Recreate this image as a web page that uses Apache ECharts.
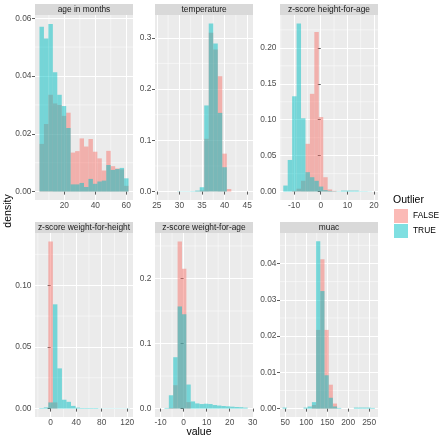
<!DOCTYPE html>
<html><head><meta charset="utf-8">
<script src="https://cdn.jsdelivr.net/npm/echarts@6/dist/echarts.min.js"></script>
<style>html,body{margin:0;padding:0;background:#fff}#c{width:439px;height:440px}</style>
</head><body><div id="c"></div>
<script>
// ---------------- data ----------------
const panelTitles = ['age in months', 'temperature', 'z-score height-for-age',
                     'z-score weight-for-height', 'z-score weight-for-age', 'muac'];
const seriesNames = ['FALSE', 'TRUE'];

// age in months (bins)
const ageBinStart = 3.9, ageBinWidth = 2.88;
const ageFalse = [0.0165, 0.0234, 0.0335, 0.0305, 0.0300, 0.0262, 0.0273, 0.0135, 0.0140, 0.0184,
                  0.0156, 0.0182, 0.0138, 0.0115, 0.0073, 0.0141, 0.0088, 0.0080, 0.0077, 0.0020];
const ageTrue  = [0.0570, 0.0530, 0.0580, 0.0413, 0.0335, 0.0296, 0.0220, 0.0025, 0.0025, 0.0030,
                  0.0016, 0.0044, 0.0027, 0.0035, 0.0038, 0.0092, 0.0075, 0.0078, 0.0082, 0.0046];
const ageXTicks = [20, 40, 60];
const ageYTicks = [0, 0.02, 0.04, 0.06];

// temperature
const tempBinStart = 29.5, tempBinWidth = 1;
const tempFalse = [0, 0, 0, 0, 0.0005, 0.002, 0.103, 0.310, 0.277, 0.225, 0.074, 0.005];
const tempTrue  = [0.0005, 0.0005, 0.0005, 0.0008, 0.002, 0.0085, 0.168, 0.328, 0.289, 0.1535, 0.0475, 0];
const tempXTicks = [25, 30, 35, 40, 45];
const tempYTicks = [0, 0.1, 0.2, 0.3];

// z-score height-for-age
const hfaBinStart = -14.07, hfaBinWidth = 1.667;
const hfaFalse = [0, 0, 0.001, 0.004, 0.015, 0.0665, 0.136, 0.222, 0.1037, 0.020, 0.003, 0.001,
                  0, 0, 0, 0, 0, 0, 0, 0, 0];
const hfaTrue  = [0.0084, 0.044, 0.1326, 0.234, 0.102, 0.027, 0.020, 0.015, 0.007, 0.002, 0.001, 0.0005,
                  0.0005, 0.0014, 0.0014, 0.0014, 0.0014, 0.0005, 0.0005, 0.0003, 0];
const hfaXTicks = [-10, 0, 10, 20];
const hfaYTicks = [0, 0.05, 0.10, 0.15, 0.20];

// z-score weight-for-height
const wfhBinStart = -17.8, wfhBinWidth = 7.1;
const wfhFalse = [0, 0, 0.1355, 0.005, 0, 0, 0, 0, 0, 0, 0, 0, 0, 0, 0, 0, 0, 0, 0, 0];
const wfhTrue  = [0.0005, 0.001, 0.005, 0.0845, 0.0326, 0.0072, 0.0055, 0.0022, 0.0008, 0.0005,
                  0.0005, 0.0005, 0.0005, 0.0002, 0.0002, 0.0002, 0.0002, 0.0002, 0.0002, 0.0002];
const wfhXTicks = [0, 40, 80, 120];
const wfhYTicks = [0, 0.05, 0.10];

// z-score weight-for-age
const wfaBinStart = -8.3, wfaBinWidth = 1.9;
const wfaFalse = [0, 0.001, 0.036, 0.257, 0.215, 0.010, 0, 0, 0, 0, 0, 0, 0, 0, 0, 0, 0, 0, 0];
const wfaTrue  = [0.001, 0.0205, 0.079, 0.157, 0.145, 0.037, 0.011, 0.008, 0.007, 0.0075, 0.007,
                  0.0055, 0.0047, 0.004, 0.0035, 0.003, 0.0025, 0.0022, 0.0015];
const wfaXTicks = [-10, 0, 10, 20, 30];
const wfaYTicks = [0, 0.1, 0.2];

// muac
const muacBinStart = 43.5, muacBinWidth = 10;
const muacFalse = [0, 0, 0, 0, 0, 0, 0, 0.001, 0.0217, 0.0412, 0.0217, 0.0066, 0.0014, 0, 0, 0, 0, 0, 0, 0, 0, 0];
const muacTrue  = [0.0003, 0, 0, 0, 0, 0.0003, 0.0006, 0.0018, 0.0461, 0.0324, 0.0092, 0.0030, 0.0006, 0.0002,
                   0, 0, 0, 0.0003, 0.0003, 0.0003, 0.0003, 0.0002];
const muacXTicks = [50, 100, 150, 200, 250];
const muacYTicks = [0, 0.01, 0.02, 0.03, 0.04];

// ---------------- layout / style ----------------
const FONT = '"Liberation Sans", Arial, Helvetica, sans-serif';
const fillColors = ['rgba(248,118,109,0.5)', 'rgba(0,191,196,0.5)'];
const panels = [
  {title: panelTitles[0], start: ageBinStart, width: ageBinWidth, vals: [ageFalse, ageTrue], xt: ageXTicks, yt: ageYTicks, dec: 2,
   left: 35, top: 15, w: 98, h: 185, xMin: 1.0, xMax: 64.4, yMin: -0.0029, yMax: 0.0611},
  {title: panelTitles[1], start: tempBinStart, width: tempBinWidth, vals: [tempFalse, tempTrue], xt: tempXTicks, yt: tempYTicks, dec: 1,
   left: 155, top: 15, w: 98, h: 185, xMin: 24.6, xMax: 46.3, yMin: -0.0164, yMax: 0.3444},
  {title: panelTitles[2], start: hfaBinStart, width: hfaBinWidth, vals: [hfaFalse, hfaTrue], xt: hfaXTicks, yt: hfaYTicks, dec: 2,
   left: 280, top: 15, w: 98, h: 185, xMin: -15.3, xMax: 21.5, yMin: -0.0117, yMax: 0.2457},
  {title: panelTitles[3], start: wfhBinStart, width: wfhBinWidth, vals: [wfhFalse, wfhTrue], xt: wfhXTicks, yt: wfhYTicks, dec: 2,
   left: 35, top: 233, w: 98, h: 184, xMin: -24.5, xMax: 129, yMin: -0.0068, yMax: 0.1423},
  {title: panelTitles[4], start: wfaBinStart, width: wfaBinWidth, vals: [wfaFalse, wfaTrue], xt: wfaXTicks, yt: wfaYTicks, dec: 1,
   left: 155, top: 233, w: 98, h: 184, xMin: -12.4, xMax: 30.1, yMin: -0.0129, yMax: 0.2699},
  {title: panelTitles[5], start: muacBinStart, width: muacBinWidth, vals: [muacFalse, muacTrue], xt: muacXTicks, yt: muacYTicks, dec: 2,
   left: 280, top: 233, w: 98, h: 184, xMin: 37.5, xMax: 271, yMin: -0.0023, yMax: 0.0484}
];
const STRIP_H = 11;

function minorTicks(t, lo, hi) {
  const out = [];
  const step = t[1] - t[0];
  const cands = [t[0] - step / 2];
  for (let i = 0; i < t.length - 1; i++) cands.push((t[i] + t[i + 1]) / 2);
  cands.push(t[t.length - 1] + step / 2);
  cands.forEach(v => { if (v > lo && v < hi) out.push(+v.toFixed(6)); });
  return out;
}

function renderBar(params, api) {
  const y = api.value(2);
  if (!(y > 0)) return null;
  const p0 = api.coord([api.value(0), y]);
  const p1 = api.coord([api.value(1), 0]);
  return {type: 'rect', shape: {x: p0[0], y: p0[1], width: p1[0] - p0[0], height: p1[1] - p0[1]},
          style: {fill: api.visual('color')}};
}

const grids = [], xAxes = [], yAxes = [], series = [], graphics = [];
panels.forEach((p, i) => {
  grids.push({left: p.left, top: p.top, width: p.w, height: p.h, show: true,
              backgroundColor: '#EBEBEB', borderWidth: 0, containLabel: false});
  const tickStyle = {show: true, length: 3, lineStyle: {color: '#333333', width: 0.8}};
  const labStyle = {fontSize: 8.4, color: '#4D4D4D', fontFamily: FONT};
  xAxes.push({gridIndex: i, type: 'value', min: p.xMin, max: p.xMax, position: 'bottom',
    axisLine: {show: false}, axisTick: Object.assign({customValues: p.xt}, tickStyle),
    axisLabel: Object.assign({customValues: p.xt, margin: 2, formatter: v => String(v)}, labStyle),
    splitLine: {show: true, lineStyle: {color: '#FFFFFF', width: 1}}});
  yAxes.push({gridIndex: i, type: 'value', min: p.yMin, max: p.yMax, position: 'left',
    axisLine: {show: false}, axisTick: Object.assign({customValues: p.yt}, tickStyle),
    axisLabel: Object.assign({customValues: p.yt, margin: 3.5, formatter: v => v.toFixed(p.dec)}, labStyle),
    splitLine: {show: true, lineStyle: {color: '#FFFFFF', width: 1}}});

  // minor grid lines, positioned through the axes
  const mx = minorTicks(p.xt, p.xMin, p.xMax);
  const my = minorTicks(p.yt, p.yMin, p.yMax);
  series.push({
    type: 'custom', name: 'minorx' + i, xAxisIndex: i, yAxisIndex: i, silent: true, z: 1,
    data: mx.map(v => [v]), encode: {x: 0},
    renderItem: (params, api) => {
      const a = api.coord([api.value(0), p.yMin]), b = api.coord([api.value(0), p.yMax]);
      return {type: 'line', shape: {x1: a[0], y1: a[1], x2: b[0], y2: b[1]}, style: {stroke: '#FFFFFF', lineWidth: 0.5}};
    }
  });
  series.push({
    type: 'custom', name: 'minory' + i, xAxisIndex: i, yAxisIndex: i, silent: true, z: 1,
    data: my.map(v => [p.xMin, v]), encode: {x: 0, y: 1},
    renderItem: (params, api) => {
      const a = api.coord([p.xMin, api.value(1)]), b = api.coord([p.xMax, api.value(1)]);
      return {type: 'line', shape: {x1: a[0], y1: a[1], x2: b[0], y2: b[1]}, style: {stroke: '#FFFFFF', lineWidth: 0.5}};
    }
  });

  p.vals.forEach((arr, k) => {
    series.push({
      type: 'custom', name: seriesNames[k], xAxisIndex: i, yAxisIndex: i,
      renderItem: renderBar, clip: true,
      itemStyle: {color: fillColors[k]},
      encode: {x: [0, 1], y: 2},
      data: arr.map((v, j) => [p.start + j * p.width, p.start + (j + 1) * p.width, v]),
      z: 2 + k
    });
  });

  graphics.push({type: 'rect', shape: {x: p.left, y: p.top - STRIP_H, width: p.w, height: STRIP_H},
                 style: {fill: '#D9D9D9'}, silent: true});
  graphics.push({type: 'text', x: p.left + p.w / 2, y: p.top - STRIP_H / 2,
                 style: {text: p.title, fill: '#1A1A1A', font: '8.4px ' + FONT, align: 'center', verticalAlign: 'middle'}});
});

graphics.push({type: 'text', x: 8, y: 211, rotation: Math.PI / 2,
               style: {text: 'density', fill: '#000', font: '10.5px ' + FONT, align: 'center', verticalAlign: 'middle'}});
graphics.push({type: 'text', x: 199, y: 432,
               style: {text: 'value', fill: '#000', font: '10.5px ' + FONT, align: 'center', verticalAlign: 'middle'}});
graphics.push({type: 'text', x: 393, y: 200,
               style: {text: 'Outlier', fill: '#000', font: '10.5px ' + FONT, align: 'left', verticalAlign: 'middle'}});

const chart = echarts.init(document.getElementById('c'), null, {renderer: 'canvas'});
chart.setOption({
  animation: false,
  backgroundColor: '#FFFFFF',
  grid: grids, xAxis: xAxes, yAxis: yAxes, series: series,
  legend: {data: seriesNames, orient: 'vertical', left: 394, top: 209, itemWidth: 14, itemHeight: 14,
           itemGap: 1, padding: 0, icon: 'rect',
           textStyle: {fontSize: 8.4, color: '#000', fontFamily: FONT}, selectedMode: false},
  graphic: graphics
});
</script></body></html>
